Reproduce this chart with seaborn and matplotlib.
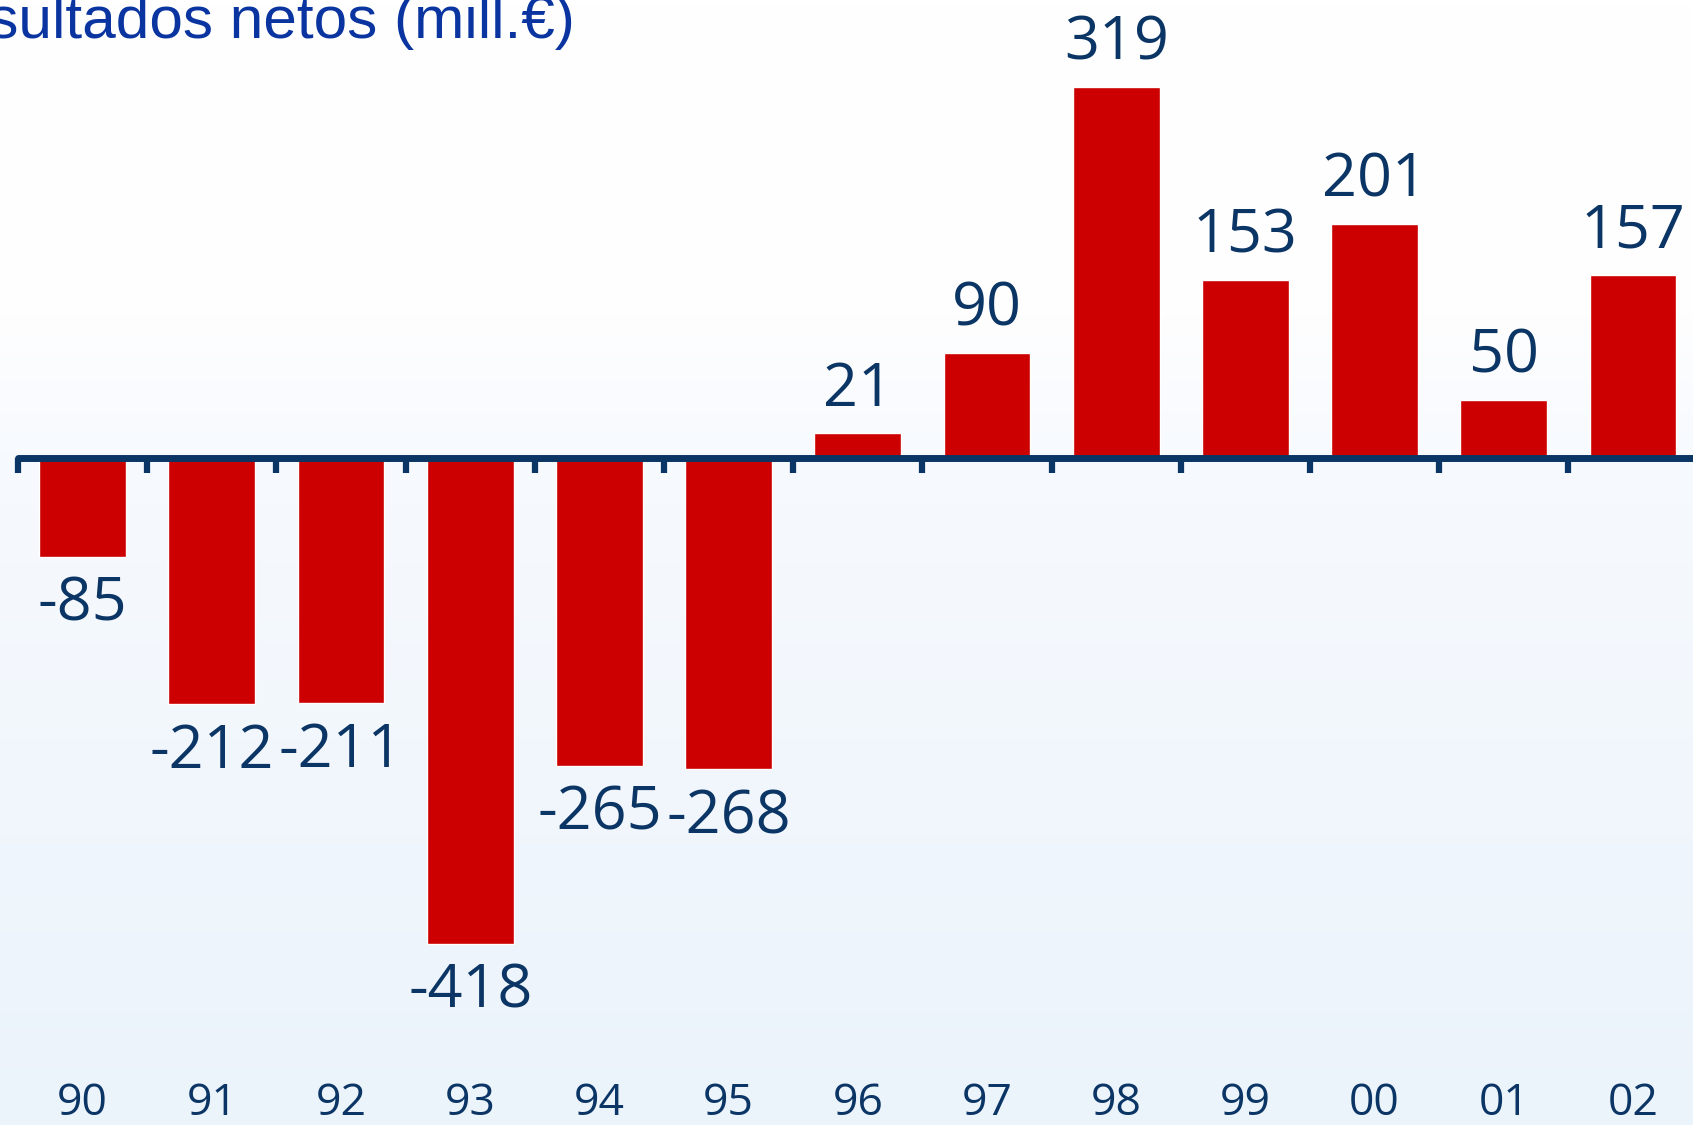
import numpy as np
import matplotlib
matplotlib.use("Agg")
import matplotlib.pyplot as plt
import seaborn as sns
from matplotlib.colors import LinearSegmentedColormap

# ---- data ----
years = ["90", "91", "92", "93", "94", "95", "96", "97", "98", "99", "00", "01", "02"]
values = [-85, -212, -211, -418, -265, -268, 21, 90, 319, 153, 201, 50, 157]
title = "Resultados netos (mill.€)"

# ---- style ----
W, H = 1693, 1125
NAVY = "#0B3565"
RED = "#CC0000"
TITLE_BLUE = "#0A35A0"

sns.set_theme(style="white")
plt.rcParams["font.family"] = ["Open Sans", "DejaVu Sans"]

fig = plt.figure(figsize=(W / 100, H / 100), dpi=100)
fig.patch.set_facecolor("white")

# background gradient
bg = fig.add_axes([0, 0, 1, 1], zorder=0)
cmap = LinearSegmentedColormap.from_list(
    "bg", [(0.0, "#FFFFFF"), (0.28, "#FEFEFF"), (0.40, "#F7FAFE"), (1.0, "#EBF3FB")])
grad = np.linspace(0, 1, 256).reshape(-1, 1)
bg.imshow(grad, aspect="auto", cmap=cmap, extent=[0, 1, 0, 1], origin="upper")
bg.set_axis_off()

left_px = 18
ax = fig.add_axes([left_px / W, 0, 1 - left_px / W, 1], zorder=1)
ax.patch.set_alpha(0)

sns.barplot(x=years, y=values, order=years, color=RED, saturation=1,
            width=0.673, ax=ax)

spacing = 129.2
ax.set_xlim(-0.5, -0.5 + (W - left_px) / spacing)
ax.set_ylim(-574, 394)

for s in ["top", "right", "left"]:
    ax.spines[s].set_visible(False)
ax.spines["bottom"].set_position(("data", 0))
ax.spines["bottom"].set_color(NAVY)
ax.spines["bottom"].set_linewidth(5)
ax.spines["bottom"].set_capstyle("round")
ax.spines["bottom"].set_zorder(5)

ax.set_yticks([])
ax.set_xticks(range(len(years)))
ax.set_xticklabels([""] * len(years))
ax.set_xticks(np.arange(-0.5, len(years) - 1, 1.0), minor=True)
ax.tick_params(axis="x", which="major", length=0, bottom=False)
ax.tick_params(axis="x", which="minor", bottom=True, length=11, width=4.5,
               color=NAVY, direction="out")
ax.set_xlabel("")
ax.set_ylabel("")

# value labels
for i, v in enumerate(values):
    if v >= 0:
        ax.annotate(str(v), xy=(i, v), xytext=(0, 20), textcoords="offset points",
                    ha="center", va="baseline", fontsize=44, color=NAVY)
    else:
        ax.annotate(str(v), xy=(i, v), xytext=(0, -46), textcoords="offset points",
                    ha="center", va="baseline", fontsize=44, color=NAVY)

# year labels
for i, y in enumerate(years):
    ax.text(i, 1 - 1104 / H, y, transform=ax.get_xaxis_transform(),
            ha="center", va="center", fontsize=32, color=NAVY)

# title (cut by the left edge)
fig.text(575 / W, 1 - 38 / H, title, ha="right", va="baseline",
         fontsize=43.5, color=TITLE_BLUE,
         family=["Liberation Sans", "DejaVu Sans"])

fig.savefig("out.png", dpi=100)
